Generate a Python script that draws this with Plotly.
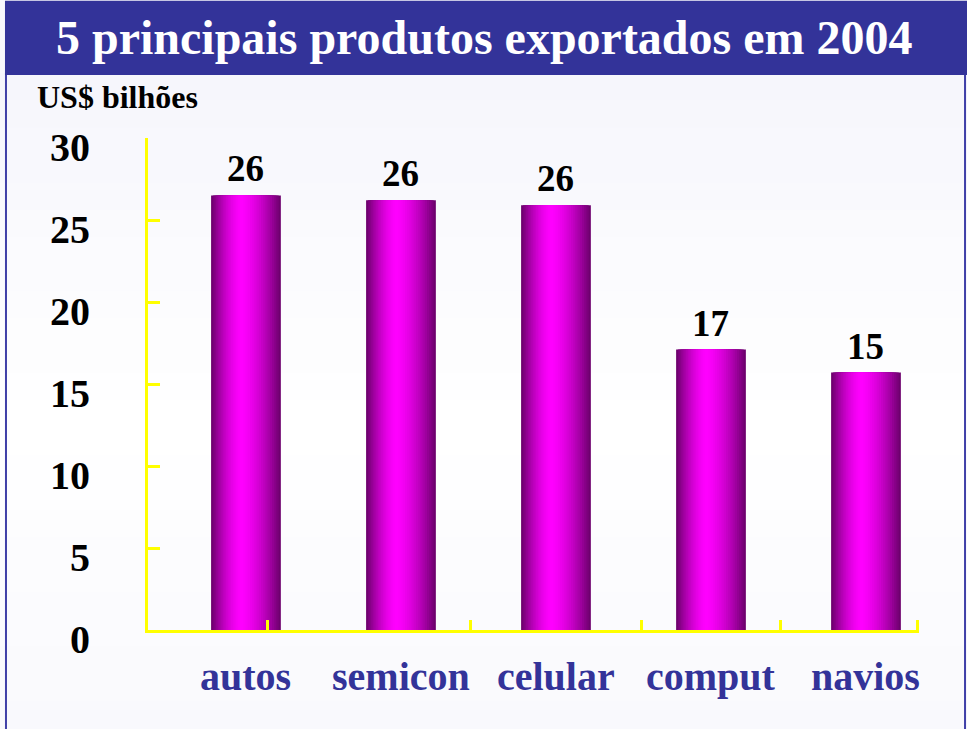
import plotly.graph_objects as go

# ---- data ----
categories = ["autos", "semicon", "celular", "comput", "navios"]
values = [26.5, 26.2, 25.9, 17.1, 15.7]
value_labels = ["26", "26", "26", "17", "15"]
y_ticks = [0, 5, 10, 15, 20, 25, 30]
y_tick_labels = ["0", "5", "10", "15", "20", "25", "30"]
title_text = "5 principais produtos exportados em 2004"
unit_text = "US$ bilhões"

# ---- styling constants ----
FONT = "Liberation Serif"
NAVY = "#333399"
YELLOW = "#FFFF00"
X_RANGE = [-0.632, 4.342]
X_TICK_MARKS = [0.14, 1.45, 2.55, 3.45, 4.335]
BAR_W = 0.45
PEAK = 0.43  # position of the brightest stripe across the bar
PLOT_TOP_PX, PLOT_BOTTOM_PX, FIG_H = 138, 630, 729


def mix(c1, c2, t):
    a = [int(c1[i:i + 2], 16) for i in (1, 3, 5)]
    b = [int(c2[i:i + 2], 16) for i in (1, 3, 5)]
    return "#" + "".join(f"{round(a[i] + (b[i] - a[i]) * t):02X}" for i in range(3))


def py(px):
    """pixel row -> paper y"""
    return (PLOT_BOTTOM_PX - px) / (PLOT_BOTTOM_PX - PLOT_TOP_PX)


fig = go.Figure()

# gradient bars: nested overlay layers, widest (dark) first
N = 18
for k in range(N):
    f = 1 - k / N
    col = mix("#FF00FF", "#6E006E", f ** 1.6)
    fig.add_trace(go.Bar(
        x=categories, y=values,
        width=f * BAR_W,
        offset=-BAR_W / 2 + PEAK * BAR_W - f * PEAK * BAR_W,
        marker=dict(color=col, line=dict(width=0)),
        hoverinfo="skip", showlegend=False,
    ))

# invisible helper so the tick-mark axis is drawn
fig.add_trace(go.Scatter(x=X_RANGE, y=[0, 0], xaxis="x2", yaxis="y",
                         mode="markers", marker=dict(opacity=0),
                         hoverinfo="skip", showlegend=False))

annotations = []
for c, v, t in zip(categories, values, value_labels):
    annotations.append(dict(x=c, y=v, xref="x", yref="y", text=f"<b>{t}</b>",
                            showarrow=False, yanchor="bottom", yshift=4,
                            font=dict(family=FONT, size=37, color="black")))
for c in categories:
    annotations.append(dict(x=c, y=0, xref="x", yref="paper", text=f"<b>{c}</b>",
                            showarrow=False, yanchor="top", yshift=-22,
                            font=dict(family=FONT, size=40, color=NAVY)))
for v, t in zip(y_ticks, y_tick_labels):
    annotations.append(dict(x=0, y=v, xref="paper", yref="y", text=f"<b>{t}</b>",
                            showarrow=False, xanchor="right", yanchor="middle",
                            xshift=-56, yshift=-9,
                            font=dict(family=FONT, size=40, color="black")))
annotations.append(dict(x=0.4358, y=1.205, xref="paper", yref="paper",
                        text=f"<b>{title_text}</b>", showarrow=False,
                        xanchor="center", yanchor="middle",
                        font=dict(family=FONT, size=48, color="white")))
annotations.append(dict(x=-0.1466, y=1.083, xref="paper", yref="paper",
                        text=f"<b>{unit_text}</b>", showarrow=False,
                        xanchor="left", yanchor="middle",
                        font=dict(family=FONT, size=32, color="black")))

shapes = []
# soft vertical background gradient (lavender -> white -> lavender)
bands = 24
top_px, mid_px = 74, 420
for i in range(bands):
    y0 = top_px + (FIG_H - top_px) * i / bands
    y1 = top_px + (FIG_H - top_px) * (i + 1) / bands
    yc = (y0 + y1) / 2
    if yc < mid_px:
        col = mix("#F6F6FC", "#FFFFFF", (yc - top_px) / (mid_px - top_px))
    else:
        col = mix("#FFFFFF", "#F9F9FD", (yc - mid_px) / (FIG_H - mid_px))
    shapes.append(dict(type="rect", xref="paper", yref="paper", x0=-0.2, x1=1.07,
                       y0=py(y1) - 0.002, y1=py(y0) + 0.002, line=dict(width=0),
                       fillcolor=col, layer="below"))
# outer border
shapes.append(dict(type="rect", xref="paper", yref="paper", x0=-0.1842, x1=1.0597,
                   y0=-0.25, y1=1.13, line=dict(color="#4040A8", width=2),
                   fillcolor="rgba(0,0,0,0)", layer="below"))
# title banner
shapes.append(dict(type="rect", xref="paper", yref="paper", x0=-0.1855, x1=1.07,
                   y0=1.128, y1=1.279, line=dict(width=0), fillcolor=NAVY,
                   layer="below"))

fig.update_layout(
    width=967, height=729, autosize=False,
    margin=dict(l=148, r=48, t=138, b=99),
    paper_bgcolor="#F8F8FC", plot_bgcolor="rgba(0,0,0,0)",
    barmode="overlay", showlegend=False,
    xaxis=dict(type="category", range=X_RANGE, showline=False, showgrid=False,
               zeroline=False, showticklabels=False, ticks=""),
    xaxis2=dict(type="linear", overlaying="x", anchor="y", side="bottom",
                range=X_RANGE, tickvals=X_TICK_MARKS, ticks="inside", ticklen=10,
                tickwidth=3, tickcolor=YELLOW, showline=True, linecolor=YELLOW,
                linewidth=3, showticklabels=False, showgrid=False, zeroline=False),
    yaxis=dict(range=[0, 30], tickvals=y_ticks, ticks="inside", ticklen=12,
               tickwidth=3, tickcolor=YELLOW, showline=True, linecolor=YELLOW,
               linewidth=3, showticklabels=False, showgrid=False, zeroline=False),
    annotations=annotations,
    shapes=shapes,
)

fig.write_html("out.html", config={"displayModeBar": False},
               post_script="document.body.style.margin='0';")
